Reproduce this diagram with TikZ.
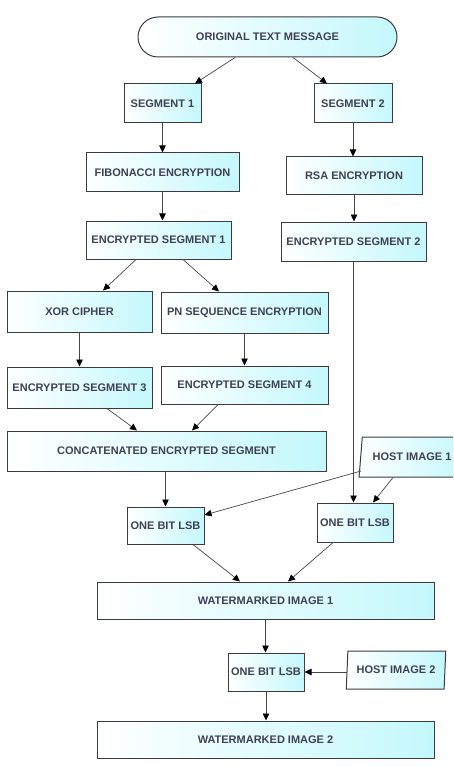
\documentclass[tikz,border=0pt]{standalone}
\usepackage{fontspec}
\setmainfont{Liberation Sans}
\usetikzlibrary{arrows.meta,shapes.geometric}
\definecolor{boxcyan}{RGB}{196,248,252}
\definecolor{boxline}{RGB}{60,60,60}
\definecolor{txt}{RGB}{64,64,84}
\definecolor{arrline}{RGB}{70,70,70}
\tikzset{
  box/.style={draw=boxline, line width=1pt, left color=white, right color=boxcyan,
    inner sep=1pt, font=\fontsize{11}{12}\selectfont\bfseries, text=txt},
  para/.style={box, trapezium, trapezium stretches=true},
  arr/.style={draw=arrline, line width=0.7pt, -{Triangle[length=7pt,width=6.5pt,color=black]}}
}
\begin{document}
\begin{tikzpicture}[x=1pt,y=-1pt]
\useasboundingbox (0,0) rectangle (453,767);
\clip (0,0) rectangle (453,767);
\node[box, rounded corners=20pt, minimum width=259pt, minimum height=40pt] (orig) at (267.5,37) {ORIGINAL TEXT MESSAGE};
\node[box, minimum width=77pt, minimum height=39pt] (seg1) at (162.5,103.5) {SEGMENT 1};
\node[box, minimum width=78pt, minimum height=39pt] (seg2) at (353,103.5) {SEGMENT 2};
\node[box, minimum width=153pt, minimum height=39pt] (fib) at (162.5,172.5) {FIBONACCI ENCRYPTION};
\node[box, minimum width=136pt, minimum height=38pt] (rsa) at (354,176) {RSA ENCRYPTION};
\node[box, minimum width=145pt, minimum height=38pt] (es1) at (158.5,240) {ENCRYPTED SEGMENT 1};
\node[box, minimum width=145pt, minimum height=39pt] (es2) at (353.5,241.5) {ENCRYPTED SEGMENT 2};
\node[box, minimum width=145pt, minimum height=41pt] (xor) at (79.5,311.5) {XOR CIPHER};
\node[box, minimum width=167pt, minimum height=41pt] (pn) at (244.5,312.5) {PN SEQUENCE ENCRYPTION};
\node[box, minimum width=145pt, minimum height=41pt] (es3) at (79.5,387.5) {ENCRYPTED SEGMENT 3};
\node[box, minimum width=167pt, minimum height=38pt] (es4) at (244.5,385) {ENCRYPTED SEGMENT 4};
\node[box, minimum width=319pt, minimum height=40pt] (cat) at (166.5,451) {CONCATENATED ENCRYPTED SEGMENT};
\node[para, trapezium left angle=75, trapezium right angle=105, minimum width=106pt, minimum height=40pt] (host1) at (412,457) {HOST IMAGE 1};
\node[box, minimum width=77pt, minimum height=37pt] (lsb1) at (165.5,525.5) {ONE BIT LSB};
\node[box, minimum width=76pt, minimum height=39pt] (lsb2) at (355,522.5) {ONE BIT LSB};
\node[box, minimum width=337pt, minimum height=37pt] (wi1) at (265.5,600.5) {WATERMARKED IMAGE 1};
\node[box, minimum width=76pt, minimum height=38pt] (lsb3) at (266,672) {ONE BIT LSB};
\node[para, trapezium left angle=82, trapezium right angle=98, minimum width=100pt, minimum height=38pt] (host2) at (396,670) {HOST IMAGE 2};
\node[box, minimum width=337pt, minimum height=37pt] (wi2) at (265.5,739.5) {WATERMARKED IMAGE 2};

\draw[arr] ([xshift=-32.5pt]orig.south) -- ([xshift=32.5pt]seg1.north);
\draw[arr] ([xshift=25.5pt]orig.south) -- ([xshift=-26pt]seg2.north);
\draw[arr] (seg1.south) -- (fib.north);
\draw[arr] (seg2.south) -- (seg2.south |- rsa.north);
\draw[arr] (fib.south) -- (fib.south |- es1.north);
\draw[arr] (rsa.south) -- (rsa.south |- es2.north);
\draw[arr] ([xshift=-22.5pt]es1.south) -- ([xshift=23.5pt]xor.north);
\draw[arr] ([xshift=24.5pt]es1.south) -- ([xshift=-25.5pt]pn.north);
\draw[arr] (xor.south) -- (es3.north);
\draw[arr] (pn.south) -- (es4.north);
\draw[arr] ([xshift=27.5pt]es3.south) -- ([xshift=-29.5pt]cat.north);
\draw[arr] ([xshift=-26.5pt]es4.south) -- ([xshift=25.5pt]cat.north);
\draw[arr] (cat.south -| lsb1.north) -- (lsb1.north);
\draw[arr] (es2.south) -- (es2.south |- lsb2.north);
\draw[arr] ([xshift=-51pt,yshift=-14pt]host1.center) -- ([yshift=10.5pt]lsb1.east);
\draw[arr] ([xshift=-19pt]host1.south) -- ([xshift=18pt]lsb2.north);
\draw[arr] ([xshift=27.5pt]lsb1.south) -- ([xshift=-25.5pt]wi1.north);
\draw[arr] ([xshift=-22pt]lsb2.south) -- ([xshift=22.5pt]wi1.north);
\draw[arr] (wi1.south) -- (wi1.south |- lsb3.north);
\draw[arr] (lsb3.east -| host2.west) -- (lsb3.east);
\draw[arr] (lsb3.south) -- (lsb3.south |- wi2.north);
\end{tikzpicture}
\end{document}
